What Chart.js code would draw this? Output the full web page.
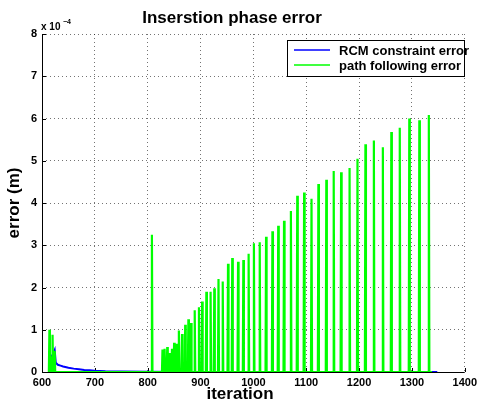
<!DOCTYPE html>
<html>
<head>
<meta charset="utf-8">
<title>Inserstion phase error</title>
<script src="https://cdn.jsdelivr.net/npm/chart.js@4.4.1/dist/chart.umd.min.js"></script>
<style>
  html, body { margin: 0; padding: 0; background: #fff; }
  canvas { display: block; }
</style>
</head>
<body>
<canvas id="my-chart" width="481" height="403"></canvas>
<script>
'use strict';

// ******* DATA (values in units of 1e-4 m) *******
let xTicks = [600, 700, 800, 900, 1000, 1100, 1200, 1300, 1400];
let yTicks = [0, 1, 2, 3, 4, 5, 6, 7, 8];

// RCM constraint error, sampled along iteration
let rcmIter = [614, 617, 619, 622, 624, 626, 630, 635, 640, 650, 660, 670, 680, 690, 700, 720, 750, 800, 900, 1100, 1348];
let rcmVal = [0.05, 0.28, 0.38, 0.46, 0.52, 0.22, 0.17, 0.15, 0.13, 0.1, 0.08, 0.065, 0.05, 0.04, 0.03, 0.018, 0.01, 0.004, 0.002, 0.001, 0];

// path following error: zero except short spikes
let pathStart = 613;
let pathEnd = 1338;
let spikeIter = [614, 617, 620, 624, 808,
  828, 832, 837, 841, 846, 850, 855, 859, 865, 871, 877, 882, 889, 897, 903,
  911, 919, 926, 934, 942, 952, 960, 971, 981, 991, 1001, 1012, 1024, 1036,
  1047, 1058, 1071, 1083, 1096, 1110, 1123, 1138, 1152, 1166, 1182, 1197,
  1212, 1228, 1245, 1261, 1277, 1295, 1314, 1332];
let spikeVal = [1.0, 0.37, 0.88, 0.5, 3.25,
  0.53, 0.55, 0.59, 0.45, 0.55, 0.69, 0.67, 0.98, 0.9, 1.12, 1.25, 1.16, 1.46, 1.53, 1.67,
  1.9, 1.9, 1.98, 2.2, 2.14, 2.56, 2.7, 2.61, 2.65, 2.8, 3.05, 3.07, 3.2, 3.33,
  3.46, 3.58, 3.81, 4.17, 4.25, 4.1, 4.45, 4.55, 4.76, 4.73, 4.83, 5.05,
  5.39, 5.48, 5.32, 5.68, 5.78, 6.0, 5.96, 6.08];

let seriesNames = ['RCM constraint error', 'path following error'];
let seriesColors = ['#0000ff', '#00ff00'];

// ******* DOM REFERENCES *********
let canvasElem = document.getElementById('my-chart').getContext('2d');

const FONT = 'Liberation Sans, Arial, Helvetica, sans-serif';

// ****** HELPER FUNCTIONS ******
function buildRcmPoints() {
  let pts = [];
  for (let i = 0; i < rcmIter.length; i++) {
    pts.push({ x: rcmIter[i], y: rcmVal[i] });
  }
  return pts;
}

function buildPathPoints() {
  let pts = [{ x: pathStart, y: 0 }];
  for (let i = 0; i < spikeIter.length; i++) {
    pts.push({ x: spikeIter[i] - 1, y: 0 });
    pts.push({ x: spikeIter[i], y: spikeVal[i] });
    pts.push({ x: spikeIter[i] + 1, y: 0 });
  }
  pts.push({ x: pathEnd, y: 0 });
  return pts;
}

// solid axes, inward tick marks + all the MATLAB-style texts and legend
let matlabDecor = {
  id: 'matlabDecor',
  beforeDatasetsDraw(chart) {
    let ctx = chart.ctx;
    let xs = chart.scales.x;
    let ys = chart.scales.y;
    let area = chart.chartArea;
    ctx.save();
    ctx.strokeStyle = '#000';
    ctx.lineWidth = 1;
    ctx.setLineDash([]);
    ctx.beginPath();
    // left + bottom axis lines
    ctx.moveTo(area.left + 0.5, area.top);
    ctx.lineTo(area.left + 0.5, area.bottom + 0.5);
    ctx.lineTo(area.right, area.bottom + 0.5);
    for (let i = 0; i < xTicks.length; i++) {
      let px = Math.round(xs.getPixelForValue(xTicks[i])) + 0.5;
      ctx.moveTo(px, area.bottom);
      ctx.lineTo(px, area.bottom - 4);
    }
    for (let i = 0; i < yTicks.length; i++) {
      let py = Math.round(ys.getPixelForValue(yTicks[i])) + 0.5;
      ctx.moveTo(area.left, py);
      ctx.lineTo(area.left + 4, py);
    }
    ctx.stroke();
    ctx.restore();
  },
  afterDraw(chart) {
    let ctx = chart.ctx;
    ctx.save();
    ctx.fillStyle = '#000';

    // title
    ctx.font = 'bold 17px ' + FONT;
    ctx.textAlign = 'center';
    ctx.textBaseline = 'middle';
    ctx.fillText('Inserstion phase error', 232, 18);

    // exponent label
    ctx.textAlign = 'left';
    ctx.textBaseline = 'alphabetic';
    ctx.font = 'bold 10px ' + FONT;
    ctx.fillText('x 10', 41, 30);
    ctx.font = 'bold 7px ' + FONT;
    ctx.fillText('\u22124', 63, 24);

    // x axis label
    ctx.font = 'bold 17px ' + FONT;
    ctx.textAlign = 'center';
    ctx.textBaseline = 'middle';
    ctx.fillText('iteration', 240, 394);

    // y axis label
    ctx.save();
    ctx.translate(14, 203);
    ctx.rotate(-Math.PI / 2);
    ctx.fillText('error (m)', 0, 0);
    ctx.restore();

    // legend box
    ctx.fillStyle = '#fff';
    ctx.fillRect(287, 40, 177, 36);
    ctx.strokeStyle = '#000';
    ctx.lineWidth = 1;
    ctx.strokeRect(287.5, 40.5, 177, 36);
    ctx.lineWidth = 1.5;
    let rows = [50, 65];
    ctx.font = 'bold 13px ' + FONT;
    ctx.textAlign = 'left';
    ctx.textBaseline = 'middle';
    for (let i = 0; i < seriesNames.length; i++) {
      ctx.strokeStyle = seriesColors[i];
      ctx.beginPath();
      ctx.moveTo(294, rows[i]);
      ctx.lineTo(330, rows[i]);
      ctx.stroke();
      ctx.fillStyle = '#000';
      ctx.fillText(seriesNames[i], 339, rows[i] + 1);
    }
    ctx.restore();
  }
};

// ******** CHART *******
function renderChart() {
  let tickFont = { family: FONT, size: 11, weight: 'bold' };

  let myChartObj = {
    type: 'line',
    data: {
      datasets: [{
        // drawn on top (dataset 0)
        label: seriesNames[1],
        data: buildPathPoints(),
        borderColor: seriesColors[1],
        borderWidth: 2.2,
        pointRadius: 0,
        tension: 0,
        fill: false
      },
      {
        label: seriesNames[0],
        data: buildRcmPoints(),
        borderColor: seriesColors[0],
        borderWidth: 2,
        pointRadius: 0,
        tension: 0,
        fill: false
      }]
    },
    options: {
      responsive: false,
      animation: false,
      devicePixelRatio: 1,
      layout: { padding: { top: 34, right: 13, left: 0, bottom: 0 } },
      plugins: {
        legend: { display: false },
        title: { display: false },
        tooltip: { enabled: false }
      },
      scales: {
        x: {
          type: 'linear',
          min: 600,
          max: 1400,
          afterFit: function (scale) { scale.height = 31; },
          afterBuildTicks: function (scale) {
            scale.ticks = xTicks.map(v => ({ value: v }));
          },
          ticks: {
            font: tickFont,
            color: '#000',
            padding: 4,
            maxRotation: 0,
            autoSkip: false,
            callback: function (value) { return String(value); }
          },
          grid: { color: 'rgba(0,0,0,0.55)', lineWidth: 1, drawTicks: false },
          border: { display: false, dash: [1, 3] }
        },
        y: {
          type: 'linear',
          min: 0,
          max: 8,
          afterFit: function (scale) { scale.width = 42; },
          afterBuildTicks: function (scale) {
            scale.ticks = yTicks.map(v => ({ value: v }));
          },
          ticks: {
            font: tickFont,
            color: '#000',
            padding: 5,
            autoSkip: false,
            callback: function (value) { return String(value); }
          },
          grid: { color: 'rgba(0,0,0,0.55)', lineWidth: 1, drawTicks: false },
          border: { display: false, dash: [1, 3] }
        }
      }
    },
    plugins: [matlabDecor]
  };

  new Chart(canvasElem, myChartObj);
}

// ****** EXECUTABLE CODE ********
renderChart();
</script>
</body>
</html>
